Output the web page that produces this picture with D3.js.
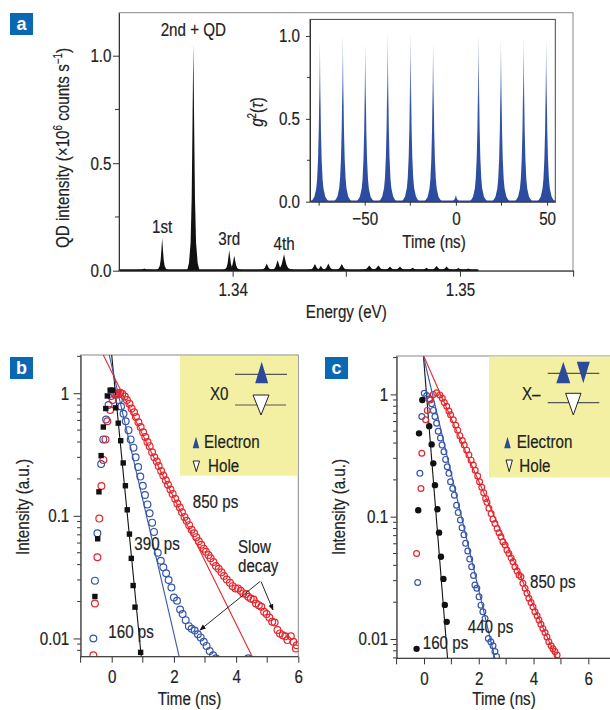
<!DOCTYPE html>
<html lang="en">
<head>
<meta charset="UTF-8">
<title>QD spectrum and lifetimes</title>
<script src="https://d3js.org/d3.v7.min.js"></script>
<style>
  body { margin: 0; background: #fff; }
  svg text { font-family: 'Liberation Sans', Arial, sans-serif; fill: #222; stroke: #222; stroke-width: 0.2px; }
</style>
</head>
<body>
<svg id="fig" width="610" height="710"></svg>
<script>
// ---- panel a: spectrum (energy eV, intensity 1e6 counts/s), peaks
const specPeakE = [1.33611, 1.33690, 1.33827, 1.33985, 1.34007, 1.34150, 1.34198, 1.34226, 1.34362, 1.34388,
                   1.34421, 1.34480, 1.34601, 1.34641, 1.34692, 1.34736, 1.34792, 1.34853, 1.34897, 1.34941,
                   1.34993, 1.35036];
const specPeakH = [0.006, 0.147, 1.05, 0.092, 0.065, 0.030, 0.045, 0.073, 0.027, 0.019,
                   0.030, 0.027, 0.020, 0.020, 0.015, 0.015, 0.010, 0.010, 0.018, 0.015,
                   0.008, 0.006];
const specPeakW = [0.00015, 0.00011, 0.00012, 0.00012, 0.00014, 0.00014, 0.00015, 0.00018, 0.00015, 0.00013,
                   0.00015, 0.00016, 0.00018, 0.00018, 0.00016, 0.00016, 0.00016, 0.00016, 0.00016, 0.00016,
                   0.00016, 0.00016];
// peak outline: [offset in widths, fraction of peak height]
const specProfile = [[-2.2, 0], [-1.6, 0.03], [-1, 0.12], [-0.6, 0.32], [-0.3, 0.65], [0, 1],
                     [0.3, 0.65], [0.6, 0.32], [1, 0.12], [1.6, 0.03], [2.2, 0]];
const specBaseE = [1.3350, 1.3508];
const specBaseLevel = 0.004;
const specLabels = [["1st", 1.33690, 0.175], ["2nd + QD", 1.33827, 1.09], ["3rd", 1.33985, 0.12], ["4th", 1.34226, 0.097]];

// ---- panel a inset: g2(tau)
const g2PeakT = [-74.6, -62.0, -49.7, -37.4, -24.9, -12.5, 0, 12.4, 24.7, 37.1, 49.5];
const g2PeakH = [0.98, 1.02, 0.96, 1.03, 1.03, 0.97, 0.04, 1.02, 0.99, 1.0, 0.99];
const g2Profile = [[-5, 0], [-4, 0.012], [-3, 0.03], [-2, 0.08], [-1.5, 0.14], [-1, 0.26], [-0.6, 0.44],
                   [-0.3, 0.68], [0, 1], [0.3, 0.68], [0.6, 0.44], [1, 0.26], [1.5, 0.14], [2, 0.08],
                   [3, 0.03], [4, 0.012], [5, 0]];

// ---- panel b: X0 decays [time ns, intensity a.u.]
const bBlack = [[-0.54, 0.022], [-0.45, 0.065], [-0.41, 0.157], [-0.34, 0.31], [-0.27, 0.53], [-0.19, 0.75],
  [-0.14, 0.95], [-0.05, 1.06], [0.03, 1.06], [0.13, 0.76], [0.21, 0.57], [0.29, 0.41], [0.37, 0.27],
  [0.44, 0.176], [0.50, 0.112], [0.57, 0.071], [0.63, 0.045], [0.69, 0.027], [0.75, 0.018], [0.93, 0.0077]];
const bBlue = [[-0.59, 0.010], [-0.54, 0.0296], [-0.46, 0.072], [-0.34, 0.265], [-0.27, 0.42], [-0.18, 0.61],
  [-0.10, 0.80], [-0.02, 0.95], [0.06, 1.01], [0.15, 0.97], [0.23, 0.88], [0.30, 0.78], [0.38, 0.68],
  [0.45, 0.59], [0.54, 0.50], [0.61, 0.42], [0.70, 0.36], [0.77, 0.30], [0.85, 0.25], [0.92, 0.209],
  [1.00, 0.176], [1.07, 0.148], [1.15, 0.124], [1.22, 0.105], [1.30, 0.088], [1.36, 0.074], [1.48, 0.050],
  [1.58, 0.043], [1.66, 0.038], [1.75, 0.034], [1.83, 0.030], [1.92, 0.026], [2.00, 0.0216], [2.10, 0.0203],
  [2.20, 0.0172], [2.28, 0.0158], [2.38, 0.0141], [2.48, 0.0126], [2.57, 0.0120], [2.67, 0.0116],
  [2.77, 0.0108], [2.86, 0.0102], [2.96, 0.0094], [3.05, 0.0087], [3.15, 0.0079], [3.26, 0.0073],
  [3.35, 0.0069], [4.39, 0.0069]];
const bRed = [[-0.59, 0.0073], [-0.54, 0.0193], [-0.46, 0.046], [-0.40, 0.095], [-0.33, 0.175], [-0.27, 0.286],
  [-0.20, 0.42], [-0.14, 0.59], [-0.05, 0.73], [0.03, 0.88], [0.11, 0.97], [0.18, 1.0], [0.27, 1.01],
  [0.34, 0.99], [0.42, 0.94], [0.49, 0.88], [0.57, 0.82], [0.64, 0.75], [0.72, 0.70], [0.78, 0.64],
  [0.86, 0.58], [0.93, 0.53], [1.01, 0.48], [1.08, 0.44], [1.15, 0.40], [1.22, 0.37], [1.30, 0.33],
  [1.37, 0.30], [1.45, 0.277], [1.51, 0.255], [1.59, 0.232], [1.66, 0.213], [1.74, 0.195], [1.81, 0.179],
  [1.89, 0.164], [1.96, 0.151], [2.04, 0.138], [2.11, 0.126], [2.19, 0.117], [2.26, 0.107], [2.34, 0.098],
  [2.41, 0.091], [2.49, 0.084], [2.57, 0.077], [2.65, 0.072], [2.72, 0.067], [2.80, 0.062], [2.88, 0.058],
  [2.96, 0.054], [3.03, 0.051], [3.11, 0.048], [3.18, 0.045], [3.27, 0.042], [3.35, 0.039], [3.44, 0.037],
  [3.53, 0.0346], [3.61, 0.0323], [3.70, 0.0303], [3.80, 0.0285], [3.89, 0.0267], [3.98, 0.0256],
  [4.06, 0.0256], [4.15, 0.0245], [4.23, 0.0233], [4.32, 0.0230], [4.39, 0.0219], [4.47, 0.0212],
  [4.56, 0.0208], [4.64, 0.0193], [4.73, 0.0187], [4.81, 0.0181], [4.90, 0.0165], [4.98, 0.0158],
  [5.07, 0.0148], [5.16, 0.0137], [5.24, 0.0135], [5.33, 0.0117], [5.41, 0.0110], [5.50, 0.0106],
  [5.58, 0.0104], [5.65, 0.0097], [5.76, 0.0104], [5.84, 0.0094], [5.92, 0.0083], [5.95, 0.0088]];
// fitted single exponentials, as end points [t, I]
const bFitBlack = [[0.0, 2.05], [0.95, 0.0071]];
const bFitBlue = [[-0.08, 2.05], [2.17, 0.0071]];
const bFitRed = [[-0.27, 2.05], [4.52, 0.0071]];

// ---- panel c: X- decays
const cBlack = [[-0.27, 0.0083], [-0.21, 0.113], [-0.18, 0.48], [-0.06, 0.90], [0.19, 0.55], [0.28, 0.39],
  [0.34, 0.273], [0.40, 0.181], [0.49, 0.115], [0.55, 0.074], [0.62, 0.047], [0.71, 0.031], [0.76, 0.019],
  [0.83, 0.0138]];
const cBlue = [[-0.23, 0.029], [-0.15, 0.226], [-0.08, 0.66], [0.01, 1.02], [0.10, 0.98], [0.20, 0.92],
  [0.28, 0.84], [0.34, 0.74], [0.40, 0.66], [0.46, 0.58], [0.52, 0.50], [0.60, 0.44], [0.66, 0.385],
  [0.73, 0.34], [0.79, 0.294], [0.85, 0.256], [0.91, 0.226], [0.97, 0.193], [1.05, 0.170], [1.11, 0.150],
  [1.19, 0.124], [1.25, 0.108], [1.33, 0.094], [1.39, 0.081], [1.46, 0.071], [1.52, 0.0605], [1.60, 0.0524],
  [1.67, 0.045], [1.74, 0.039], [1.81, 0.033], [1.86, 0.0276], [1.93, 0.026], [2.01, 0.0221], [2.08, 0.0189],
  [2.15, 0.0167], [2.23, 0.0147], [2.35, 0.0101], [2.44, 0.0095], [2.52, 0.0088], [2.59, 0.0079],
  [2.65, 0.0072]];
const cRed = [[-0.27, 0.050], [-0.11, 0.170], [-0.08, 0.33], [0.06, 0.62], [0.12, 0.74], [0.22, 0.90],
  [0.34, 1.0], [0.46, 1.03], [0.58, 0.99], [0.67, 0.93], [0.74, 0.86], [0.83, 0.80], [0.91, 0.73],
  [0.97, 0.68], [1.07, 0.62], [1.16, 0.56], [1.23, 0.51], [1.31, 0.46], [1.40, 0.42], [1.47, 0.385],
  [1.56, 0.35], [1.64, 0.32], [1.72, 0.29], [1.80, 0.264], [1.87, 0.240], [1.96, 0.215], [2.03, 0.193],
  [2.11, 0.174], [2.18, 0.157], [2.25, 0.141], [2.30, 0.131], [2.37, 0.117], [2.45, 0.106], [2.52, 0.0955],
  [2.59, 0.088], [2.67, 0.080], [2.74, 0.074], [2.81, 0.0685], [2.88, 0.0624], [2.96, 0.0586], [3.03, 0.0533],
  [3.10, 0.050], [3.18, 0.046], [3.25, 0.0428], [3.32, 0.039], [3.40, 0.0359], [3.47, 0.0333], [3.54, 0.0323],
  [3.61, 0.0285], [3.69, 0.026], [3.76, 0.0236], [3.83, 0.0215], [3.91, 0.0199], [3.98, 0.0183],
  [4.05, 0.0167], [4.13, 0.0155], [4.20, 0.0143], [4.27, 0.0132], [4.34, 0.0122], [4.42, 0.0113],
  [4.49, 0.0104], [4.56, 0.0095], [4.64, 0.0088], [4.71, 0.0083], [4.78, 0.0079], [4.86, 0.0074]];
const cFitBlack = [[-0.02, 2.06], [0.86, 0.00695]];
const cFitBlue = [[-0.02, 2.06], [2.59, 0.00695]];
const cFitRed = [[-0.01, 2.06], [4.84, 0.00695]];

// ---------------------------------------------------------------
const svg = d3.select('#fig');
const BLUE = '#3556aa', RED = '#e5262d', DARK = '#2c4a9c', YELLOW = '#f4f0a3';
const FS = 18.5, SX = 0.82;   // condensed look: squeeze Liberation Sans horizontally

const defs = svg.append('defs');
function clip(id, x, y, w, h) {
  defs.append('clipPath').attr('id', id).append('rect').attr('x', x).attr('y', y).attr('width', w).attr('height', h);
  return 'url(#' + id + ')';
}

// text helper: condensed text at (x, y), optional rotation
function label(x, y, s, anchor, rot) {
  return svg.append('text')
    .attr('transform', `translate(${x},${y})${rot ? ' rotate(' + rot + ')' : ''} scale(${SX},1)`)
    .attr('text-anchor', anchor || 'start').attr('font-size', FS).text(s);
}

function panelLabel(x, y, s) {
  svg.append('rect').attr('x', x).attr('y', y).attr('width', 23).attr('height', 22).attr('fill', '#0b69b3');
  svg.append('text').attr('x', x + 11.5).attr('y', y + 17).attr('text-anchor', 'middle')
    .style('fill', '#fff').style('stroke', 'none').style('font-weight', 'bold').attr('font-size', 18).text(s);
}

function styleAxis(g) {
  g.selectAll('path.domain').attr('stroke', '#333');
  g.selectAll('.tick line').attr('stroke', '#333');
  g.selectAll('.tick text').attr('font-size', FS).style('fill', '#222')
    .each(function () {
      const t = d3.select(this);
      t.attr('x', (+t.attr('x') || 0) / SX).attr('transform', `scale(${SX},1)`);
    });
  return g;
}

function minorTicks(g, values, pos, len, horizontal) {
  g.selectAll(null).data(values).join('line')
    .attr('x1', d => horizontal ? pos(d) : 0).attr('x2', d => horizontal ? pos(d) : -len)
    .attr('y1', d => horizontal ? 0 : pos(d)).attr('y2', d => horizontal ? len : pos(d))
    .attr('stroke', '#333');
}

// ================= panel a =================
panelLabel(10, 13, 'a');
const xA = d3.scaleLinear([1.335, 1.355], [119, 573.6]);
const yA = d3.scaleLinear([0, 1.2], [270.7, 12.7]);
svg.append('rect').attr('x', 119).attr('y', 12.7).attr('width', 454).attr('height', 258)
  .attr('fill', 'none').attr('stroke', '#888').attr('stroke-width', 1);

const areaA = d3.area().x(d => xA(d[0])).y0(yA(0)).y1(d => yA(d[1]));
const gSpec = svg.append('g');
gSpec.append('path').datum(specBaseE.map(e => [e, specBaseLevel])).attr('d', areaA)
  .attr('fill', '#111').attr('stroke', '#111').attr('stroke-width', 1);
specPeakE.forEach((e, i) => {
  const pts = specProfile.map(p => [e + p[0] * specPeakW[i], specPeakH[i] * p[1] + specBaseLevel]);
  gSpec.append('path').datum(pts).attr('d', areaA).attr('fill', '#111');
});

const axAy = svg.append('g').attr('transform', 'translate(119,0)')
  .call(d3.axisLeft(yA).tickValues([0, 0.5, 1.0]).tickFormat(d3.format('.1f')).tickSize(6).tickSizeOuter(0).tickPadding(1.5));
styleAxis(axAy);
minorTicks(axAy, [0.25, 0.75], yA, 4, false);
const axAx = svg.append('g').attr('transform', 'translate(0,270.7)')
  .call(d3.axisBottom(xA).tickValues([1.34, 1.35]).tickFormat(d3.format('.2f')).tickSize(6).tickSizeOuter(0).tickPadding(6.5));
styleAxis(axAx);
minorTicks(axAx, [1.345, 1.355], xA, 6, true);

label(d3.mean(xA.range()), 318, 'Energy (eV)', 'middle');
const yTitleA = label(69, 148, '', 'middle', -90);
yTitleA.append('tspan').text('QD intensity (\u00d710');
yTitleA.append('tspan').attr('baseline-shift', 'super').attr('font-size', 12).text('6');
yTitleA.append('tspan').text(' counts s');
yTitleA.append('tspan').attr('baseline-shift', 'super').attr('font-size', 12).text('\u22121');
yTitleA.append('tspan').text(')');

specLabels.forEach(d => label(xA(d[1]), yA(d[2]), d[0], 'middle'));

// ---- inset
const xI = d3.scaleLinear([-80, 54.5], [310, 555.3]);
const yI = d3.scaleLinear([0, 1.1], [201.7, 19.4]);
const grad = defs.append('linearGradient').attr('id', 'g2fill').attr('gradientUnits', 'userSpaceOnUse')
  .attr('x1', 0).attr('x2', 0).attr('y1', yI(0)).attr('y2', yI(1.04));
grad.append('stop').attr('offset', 0).attr('stop-color', '#2b4b9f');
grad.append('stop').attr('offset', 0.55).attr('stop-color', '#3354a8');
grad.append('stop').attr('offset', 1).attr('stop-color', '#c8d2ee');
const gIn = svg.append('g').attr('clip-path', clip('clipI', 310, 19.4, 245.3, 182.3));
const areaI = d3.area().x(d => xI(d[0])).y0(yI(0)).y1(d => yI(d[1]));
g2PeakT.forEach((t, i) => {
  const pts = g2Profile.map(p => [t + p[0], g2PeakH[i] * p[1]]);
  gIn.append('path').datum(pts).attr('d', areaI).attr('fill', 'url(#g2fill)');
});
gIn.append('line').attr('x1', 310).attr('x2', 555.3).attr('y1', yI(0) - 0.5).attr('y2', yI(0) - 0.5)
  .attr('stroke', '#2b4b9f').attr('stroke-width', 1.5);
svg.append('rect').attr('x', 310).attr('y', 19.4).attr('width', 245.3).attr('height', 182.3)
  .attr('fill', 'none').attr('stroke', '#444').attr('stroke-width', 1);
const axIy = svg.append('g').attr('transform', 'translate(310,0)')
  .call(d3.axisLeft(yI).tickValues([0, 0.5, 1.0]).tickFormat(d3.format('.1f')).tickSize(4).tickSizeOuter(0).tickPadding(6));
styleAxis(axIy);
minorTicks(axIy, [0.25, 0.75], yI, 3, false);
const axIx = svg.append('g').attr('transform', 'translate(0,201.7)')
  .call(d3.axisBottom(xI).tickValues([-50, 0, 50]).tickFormat(d => d < 0 ? '\u2212' + Math.abs(d) : d)
    .tickSize(4).tickSizeOuter(0).tickPadding(6.5));
styleAxis(axIx);
minorTicks(axIx, [-75, -25, 25], xI, 4, true);
label(xI(-12), 247.5, 'Time (ns)', 'middle');
const g2Title = label(263, 112, '', 'middle', -90);
g2Title.append('tspan').style('font-style', 'italic').text('g');
g2Title.append('tspan').attr('baseline-shift', 'super').attr('font-size', 12).text('2');
g2Title.append('tspan').text('(');
g2Title.append('tspan').style('font-style', 'italic').text('\u03c4');
g2Title.append('tspan').text(')');

// ================= panels b and c =================
function decayPanel(o) {
  const x = d3.scaleLinear(o.xDom, o.xRange);
  const y = d3.scaleLog(o.yDom, o.yRange);
  const [x0, x1] = o.xRange, [yb, yt] = o.yRange;
  const h = yb - yt;

  svg.append('rect').attr('x', x0).attr('y', yt).attr('width', x1 - x0).attr('height', h)
    .attr('fill', 'none').attr('stroke', '#888');
  // yellow level scheme box
  svg.append('rect').attr('x', o.box[0]).attr('y', o.box[1]).attr('width', o.box[2]).attr('height', o.box[3])
    .attr('fill', YELLOW);

  const g = svg.append('g').attr('clip-path', clip(o.id, x0, yt, x1 - x0, h));
  const line = d3.line().x(d => x(d[0])).y(d => y(d[1]));
  o.fits.forEach(f => g.append('path').datum(f.data).attr('d', line)
    .attr('stroke', f.color).attr('stroke-width', 1.1).attr('fill', 'none'));

  const open = (data, color) => g.append('g').selectAll('circle').data(data).join('circle')
    .attr('cx', d => x(d[0])).attr('cy', d => y(d[1])).attr('r', o.r)
    .attr('fill', 'none').attr('stroke', color).attr('stroke-width', 1.2);
  open(o.blue, BLUE);
  open(o.red, RED);
  if (o.blackSquare) {
    g.append('g').selectAll('rect').data(o.black).join('rect')
      .attr('x', d => x(d[0]) - 2.7).attr('y', d => y(d[1]) - 2.7).attr('width', 5.4).attr('height', 5.4)
      .attr('fill', '#111');
  } else {
    g.append('g').selectAll('circle').data(o.black).join('circle')
      .attr('cx', d => x(d[0])).attr('cy', d => y(d[1])).attr('r', 3.2).attr('fill', '#111');
  }

  const axY = svg.append('g').attr('transform', `translate(${x0},0)`)
    .call(d3.axisLeft(y).tickValues([0.01, 0.1, 1]).tickFormat(d => d).tickSize(o.tick).tickSizeOuter(0).tickPadding(o.pad));
  styleAxis(axY);
  minorTicks(axY, y.ticks().filter(v => ![0.01, 0.1, 1].includes(v) && v >= o.yDom[0] && v <= o.yDom[1]), y, 3.5, false);
  const axX = svg.append('g').attr('transform', `translate(0,${yb})`)
    .call(d3.axisBottom(x).tickValues([0, 2, 4, 6]).tickFormat(d3.format('d')).tickSize(6).tickSizeOuter(0).tickPadding(7.5));
  styleAxis(axX);
  axX.select('path.domain').attr('d', `M${x0},0H${Math.min(x1, 610)}`);
  minorTicks(axX, [-1, 1, 3, 5], x, 6, true);

  label(o.xTitleX, 705, 'Time (ns)', 'middle');
  label(o.yTitleX, 507, 'Intensity (a.u.)', 'middle', -90);
  o.notes.forEach(n => label(n[0], n[1], n[2]));
}

// b
panelLabel(10, 357, 'b');
decayPanel({
  id: 'clipB', xDom: [-1, 6], xRange: [80.6, 298.3], yDom: [0.0071, 2.05], yRange: [656.7, 355],
  box: [180, 356, 118, 119.7], r: 3.4, blackSquare: true, tick: 7, pad: 4.3,
  black: bBlack, blue: bBlue, red: bRed,
  fits: [{ data: bFitBlack, color: '#111' }, { data: bFitBlue, color: BLUE }, { data: bFitRed, color: RED }],
  xTitleX: 189.5, yTitleX: 29,
  notes: [[192.7, 508, '850 ps'], [134.3, 550, '390 ps'], [108.3, 637.7, '160 ps'], [238, 553, 'Slow'], [238, 572, 'decay']]
});
// c
panelLabel(325, 357, 'c');
decayPanel({
  id: 'clipC', xDom: [-1, 7], xRange: [396.6, 615.7], yDom: [0.00695, 2.06], yRange: [658.3, 356],
  box: [489, 356.5, 121, 121], r: 2.9, blackSquare: false, tick: 6, pad: 2.5,
  black: cBlack, blue: cBlue, red: cRed,
  fits: [{ data: cFitBlack, color: '#111' }, { data: cFitBlue, color: BLUE }, { data: cFitRed, color: RED }],
  xTitleX: 504, yTitleX: 345,
  notes: [[530, 588.3, '850 ps'], [467.7, 633.3, '440 ps'], [422.7, 649, '160 ps']]
});

// arrows for "Slow decay"
defs.append('marker').attr('id', 'arr').attr('viewBox', '0 0 10 10').attr('refX', 9).attr('refY', 5)
  .attr('markerWidth', 7).attr('markerHeight', 7).attr('orient', 'auto-start-reverse')
  .append('path').attr('d', 'M0,1L10,5L0,9z').attr('fill', '#111');
[[260, 581.5, 200, 630], [261, 581.5, 273, 610]].forEach(a => svg.append('line')
  .attr('x1', a[0]).attr('y1', a[1]).attr('x2', a[2]).attr('y2', a[3])
  .attr('stroke', '#111').attr('stroke-width', 0.9).attr('marker-end', 'url(#arr)'));

// level schemes and legends
function tri(cx, top, bottom, hw, up, fill, stroke) {
  const p = up ? `M${cx},${top}L${cx + hw},${bottom}L${cx - hw},${bottom}Z`
               : `M${cx - hw},${top}L${cx + hw},${top}L${cx},${bottom}Z`;
  svg.append('path').attr('d', p).attr('fill', fill).attr('stroke', stroke || 'none').attr('stroke-width', 1);
}
function hline(x1, x2, yv) {
  svg.append('line').attr('x1', x1).attr('x2', x2).attr('y1', yv).attr('y2', yv).attr('stroke', '#555').attr('stroke-width', 1.2);
}
// b scheme
label(210, 400, 'X0');
hline(235, 287, 374.3); hline(235, 286, 405);
tri(261.7, 361.7, 383.3, 6.5, true, DARK);
tri(261, 395, 415, 8, false, '#fff', '#222');
tri(196, 436.7, 448.3, 3.3, true, DARK);
label(204, 448.3, 'Electron');
tri(196.3, 461, 471.7, 3.2, false, '#fff', '#222');
label(208, 472, 'Hole');
// c scheme
label(522, 400, 'X\u2013');
hline(547.7, 599.3, 373.3); hline(547.7, 599.3, 402.7);
tri(563.3, 361.7, 383.3, 7, true, DARK);
tri(583.3, 361.7, 383.3, 6.5, false, DARK);
tri(573.3, 393.3, 415, 7.7, false, '#fff', '#222');
tri(507.5, 436.7, 448.3, 3.3, true, DARK);
label(516.7, 448.3, 'Electron');
tri(509.2, 460, 471.7, 3.2, false, '#fff', '#222');
label(519.3, 472, 'Hole');
</script>
</body>
</html>
